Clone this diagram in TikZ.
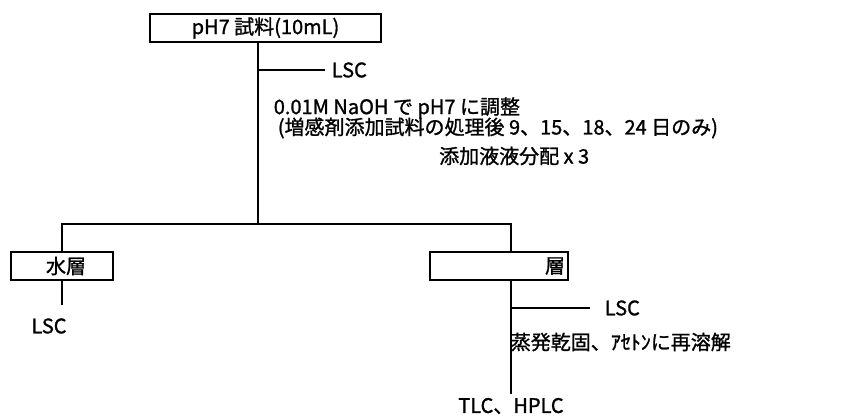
\documentclass[tikz,border=0pt]{standalone}
\usepackage{fontspec}
\setmainfont{Noto Sans CJK JP}[FakeBold=1.2]
\begin{document}
\begin{tikzpicture}[x=1pt,y=-1pt,line width=1.6pt,
  every node/.style={font=\fontsize{20}{22}\selectfont,inner sep=0pt},
  boxnode/.style={draw,minimum height=28pt,line width=1.6pt},
  txt/.style={anchor=west}]
\useasboundingbox (0,0) rectangle (859,417);
% boxes
\node[boxnode,minimum width=231pt] (top) at (265.5,28) {pH7 試料(10mL)};
\node[boxnode,minimum width=102pt] (water) at (62,266) {\hspace*{8pt}水層};
\node[boxnode,text width=132pt,inner xsep=3pt,align=right] (org) at (499,266) {層};
% coordinates
\coordinate (j1) at (258,224);
\coordinate (b1) at (258,70);
\coordinate (jr) at (511,224);
\coordinate (b2) at (511,308);
\coordinate (e1) at (62,305);
% texts
\node[txt] (lsc1) at (331,70) {LSC};
\node[txt] (t1) at (273,108) {0.01M NaOH で pH7 に調整};
\node[txt] (t2) at (277,128) {(増感剤添加試料の処理後 9、15、18、24 日のみ)};
\node[anchor=east] (t3) at (590,156) {添加液液分配 x 3};
\node (lsc2) at (49,326) {LSC};
\node[txt] (lsc3) at (604,308) {LSC};
\node[txt] (t4) at (510,342) {蒸発乾固、ｱｾﾄﾝに再溶解};
\node (tlc) at (511,406) {TLC、HPLC};
% connectors
\draw (top.south -| j1) -- (j1);
\draw (b1) -- ([xshift=-6pt]lsc1.west);
\draw (water.north) |- (j1) -| (org.north -| jr);
\draw (water.south) -- (e1);
\draw (org.south -| jr) -- ([yshift=3pt]tlc.north -| jr);
\draw (b2) -- ([xshift=-14pt]lsc3.west);
\end{tikzpicture}
\end{document}
